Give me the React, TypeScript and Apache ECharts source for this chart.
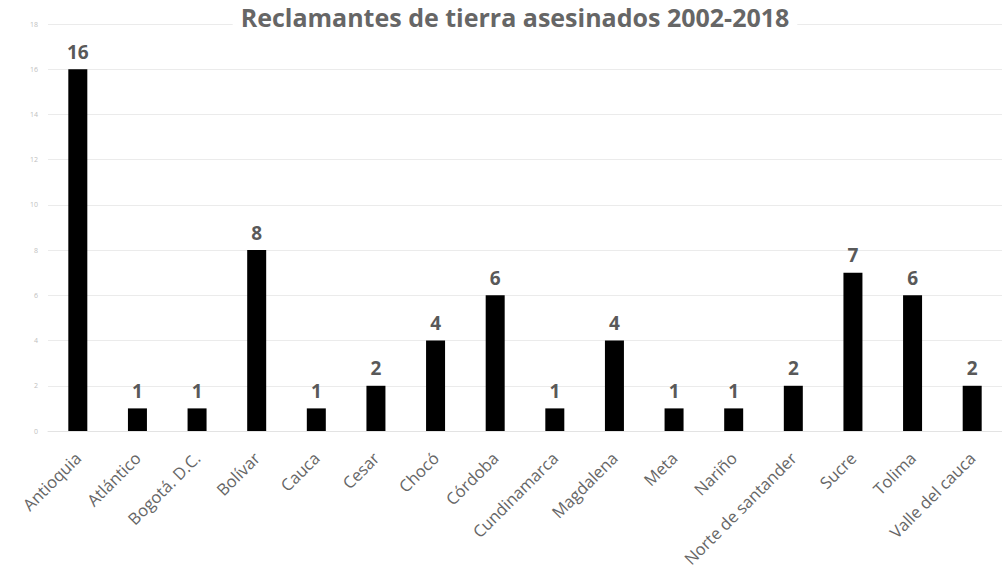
import React, { useEffect, useRef } from "react";
import * as echarts from "echarts";

const titleText = "Reclamantes de tierra asesinados 2002-2018";
const categories = [
  "Antioquia", "Atlántico", "Bogotá. D.C.", "Bolívar", "Cauca", "Cesar", "Chocó", "Córdoba",
  "Cundinamarca", "Magdalena", "Meta", "Nariño", "Norte de santander", "Sucre", "Tolima", "Valle del cauca",
];
const values = [16, 1, 1, 8, 1, 2, 4, 6, 1, 4, 1, 1, 2, 7, 6, 2];
const yMin = 0;
const yMax = 18;
const yStep = 2;

export default function App() {
  const ref = useRef<HTMLDivElement>(null);
  useEffect(() => {
    if (!ref.current) return;
    const chart = echarts.init(ref.current, null, { renderer: "svg" });
    chart.setOption({
      animation: false,
      backgroundColor: "#ffffff",
      title: {
        text: titleText,
        left: 507,
        textAlign: "center",
        top: 2,
        backgroundColor: "#ffffff",
        padding: [2, 8, 2, 8],
        textStyle: {
          fontFamily: "Open Sans",
          fontWeight: "bold",
          fontSize: 25,
          color: "#666666",
        },
        z: 10,
      },
      grid: { left: 48, width: 962, top: 24, bottom: 157, containLabel: false },
      xAxis: {
        type: "category",
        data: categories,
        axisLine: { show: true, lineStyle: { color: "#e3e3e3" } },
        axisTick: { show: false },
        axisLabel: {
          rotate: 45,
          interval: 0,
          margin: 24,
          fontFamily: "Open Sans",
          fontSize: 16.5,
          color: "#666666",
        },
      },
      yAxis: {
        type: "value",
        min: yMin,
        max: yMax,
        interval: yStep,
        axisLine: { show: false },
        axisTick: { show: false },
        splitLine: { lineStyle: { color: "#ebebeb" } },
        axisLabel: { fontSize: 7, color: "#c0c0c0", margin: 10, fontFamily: "Open Sans" },
      },
      series: [
        {
          type: "bar",
          data: values,
          barWidth: 19,
          itemStyle: { color: "#000000" },
          label: {
            show: true,
            position: "top",
            distance: 8,
            fontFamily: "Open Sans",
            fontWeight: "bold",
            fontSize: 19,
            color: "#595959",
          },
        },
      ],
    });
    return () => chart.dispose();
  }, []);
  return (
    <div style={{ position: "fixed", left: 0, top: 0, width: 1002, height: 588, overflow: "hidden" }}>
      <div ref={ref} style={{ width: 1002, height: 588 }} />
    </div>
  );
}
